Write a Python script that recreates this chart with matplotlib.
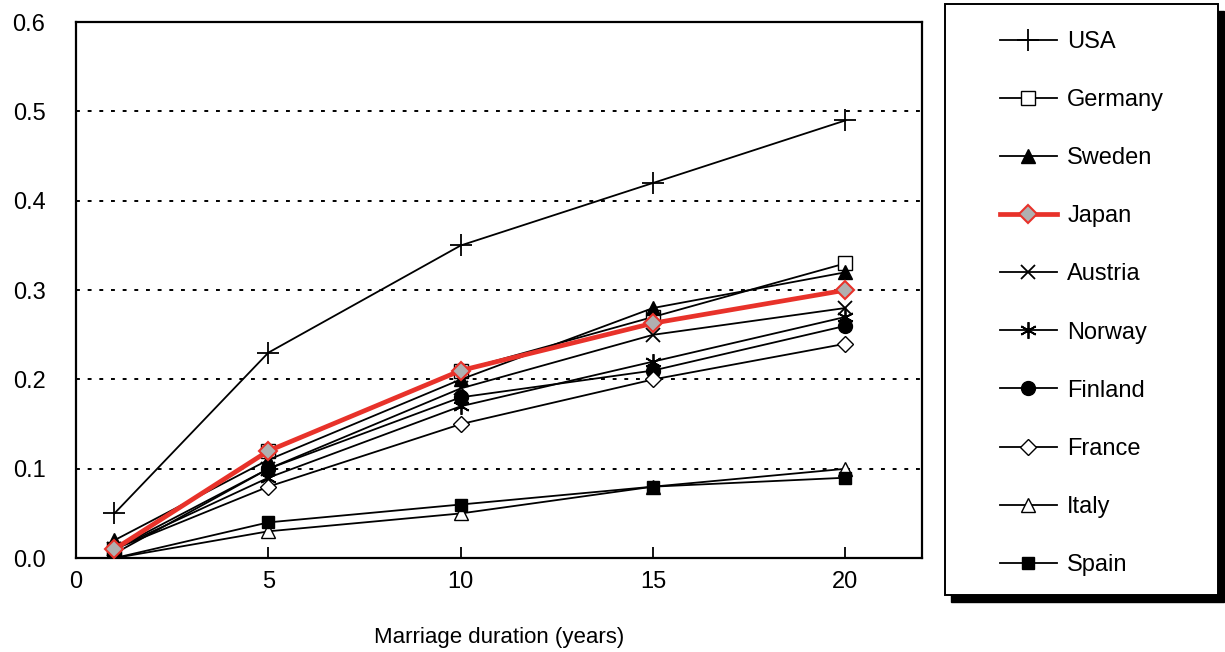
import matplotlib
matplotlib.use('Agg')
import matplotlib.pyplot as plt
from matplotlib.patches import Rectangle

plt.rcParams['font.family'] = ['Liberation Sans', 'DejaVu Sans']

# Data
duration = [1, 5, 10, 15, 20]
usa     = [0.05, 0.23, 0.35, 0.42, 0.49]
germany = [0.01, 0.12, 0.21, 0.27, 0.33]
sweden  = [0.02, 0.11, 0.20, 0.28, 0.32]
japan   = [0.01, 0.12, 0.21, 0.263, 0.30]
austria = [0.01, 0.10, 0.19, 0.25, 0.28]
norway  = [0.01, 0.09, 0.17, 0.22, 0.27]
finland = [0.005, 0.10, 0.18, 0.21, 0.26]
france  = [0.01, 0.08, 0.15, 0.20, 0.24]
italy   = [0.0, 0.03, 0.05, 0.08, 0.10]
spain   = [0.0, 0.04, 0.06, 0.08, 0.09]

fig = plt.figure(figsize=(12.25, 6.52), dpi=100)
ax = fig.add_axes([0.062, 0.144, 0.691, 0.822])

# y dotted grid
for v in [0.1, 0.2, 0.3, 0.4, 0.5]:
    ax.axhline(v, color='black', lw=1.4, linestyle=(0, (2, 4)), zorder=0)

ms = 10
common = dict(color='black', lw=1.3)
ax.plot(duration, usa, marker='+', ms=16, mew=1.3, label='USA', **common)
ax.plot(duration, germany, marker='s', ms=ms, mfc='white', mec='black', label='Germany', **common)
ax.plot(duration, sweden, marker='^', ms=ms, mfc='black', mec='black', label='Sweden', **common)
ax.plot(duration, japan, marker='D', ms=9, mfc='#b0b0b0', mec='#e8322a', mew=1.5,
        color='#e8322a', lw=3.4, label='Japan', zorder=5)
ax.plot(duration, austria, marker='x', ms=ms, mew=1.3, label='Austria', **common)
ax.plot(duration, norway, marker=(6, 2, 0), ms=12, mew=1.3, label='Norway', **common)
ax.plot(duration, finland, marker='o', ms=ms, mfc='black', mec='black', label='Finland', **common)
ax.plot(duration, france, marker='D', ms=8, mfc='white', mec='black', label='France', **common)
ax.plot(duration, italy, marker='^', ms=ms, mfc='white', mec='black', label='Italy', **common)
ax.plot(duration, spain, marker='s', ms=9, mfc='black', mec='black', label='Spain', **common)

ax.set_xlim(0, 22)
ax.set_ylim(0, 0.6)
ax.set_xticks([0, 5, 10, 15, 20])
ax.set_yticks([0.0, 0.1, 0.2, 0.3, 0.4, 0.5, 0.6])
ax.set_yticklabels(['0.0', '0.1', '0.2', '0.3', '0.4', '0.5', '0.6'])
ax.tick_params(direction='in', length=8, width=1.3, labelsize=17, pad=9)
ax.tick_params(axis='y', length=0, pad=22)
for s in ax.spines.values():
    s.set_linewidth(1.6)
ax.set_xlabel('Marriage duration (years)', fontsize=16, labelpad=25)

# legend box with solid shadow, drawn by hand behind the legend
bx0, bx1 = 945 / 1225, 1218 / 1225
by0, by1 = 1 - 595 / 652, 1 - 4 / 652
dx, dy = 6 / 1225, 7 / 652
fig.patches.append(Rectangle((bx0 + dx, by0 - dy), bx1 - bx0, by1 - by0,
                             transform=fig.transFigure, facecolor='black',
                             edgecolor='black', zorder=-2))
fig.patches.append(Rectangle((bx0, by0), bx1 - bx0, by1 - by0,
                             transform=fig.transFigure, facecolor='white',
                             edgecolor='black', lw=1.4, zorder=-1))

leg = ax.legend(loc='center left', bbox_to_anchor=(1000 / 1225, 1 - 303.5 / 652),
                bbox_transform=fig.transFigure, borderaxespad=0, borderpad=0,
                frameon=False, fontsize=17, labelspacing=1.53,
                handlelength=2.4, handletextpad=0.45)

fig.savefig('out.png', dpi=100)
